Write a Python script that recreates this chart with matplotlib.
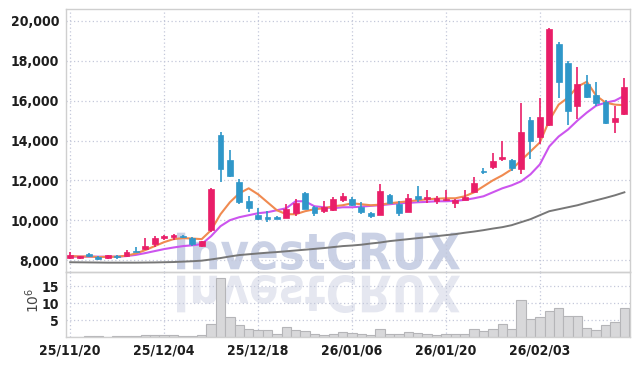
import matplotlib
matplotlib.use("Agg")
import matplotlib.pyplot as plt
from matplotlib import font_manager
from matplotlib.textpath import TextPath
from matplotlib.patches import PathPatch
from matplotlib.transforms import Affine2D
from matplotlib.font_manager import FontProperties
from matplotlib.ticker import FuncFormatter
import numpy as np

#======================== 데이터 ========================#
dates = ["25/11/20", "25/11/21", "25/11/24", "25/11/25", "25/11/26", "25/11/27", "25/11/28",
         "25/12/01", "25/12/02", "25/12/03", "25/12/04", "25/12/05", "25/12/08", "25/12/09",
         "25/12/10", "25/12/11", "25/12/12", "25/12/15", "25/12/16", "25/12/17", "25/12/18",
         "25/12/19", "25/12/22", "25/12/23", "25/12/24", "25/12/26", "25/12/29", "25/12/30",
         "26/01/02", "26/01/05", "26/01/06", "26/01/07", "26/01/08", "26/01/09", "26/01/12",
         "26/01/13", "26/01/14", "26/01/15", "26/01/16", "26/01/19", "26/01/20", "26/01/21",
         "26/01/22", "26/01/23", "26/01/26", "26/01/27", "26/01/28", "26/01/29", "26/01/30",
         "26/02/02", "26/02/03", "26/02/04", "26/02/05", "26/02/06", "26/02/09", "26/02/10",
         "26/02/11", "26/02/12", "26/02/13", "26/02/19"]

opens = [8100, 8080, 8280, 8150, 8090, 8150, 8180, 8440, 8560, 8820,
         9100, 9180, 9200, 9130, 8720, 9500, 14300, 13000, 11900, 10950,
         10250, 10150, 10150, 10120, 10350, 11350, 10670, 10480, 10520, 11000,
         11080, 10680, 10380, 10270, 11250, 10830, 10430, 11230, 11050, 10950,
         11000, 10880, 11020, 11420, 12470, 12650, 13070, 13000, 12570, 15050,
         14170, 14800, 18820, 17900, 15720, 16830, 16300, 15930, 14920, 15350]
highs = [8400, 8220, 8330, 8180, 8260, 8270, 8480, 8650, 9100, 9200,
         9250, 9300, 9240, 9150, 8980, 11600, 14450, 13500, 12050, 11200,
         10600, 10450, 10200, 10800, 11050, 11400, 10700, 10950, 11150, 11350,
         11150, 10900, 10400, 11800, 11300, 10950, 11300, 11700, 11500, 11200,
         11500, 11050, 11500, 12150, 12600, 13350, 13950, 13050, 15900, 15200,
         16150, 19650, 18950, 18000, 17700, 17300, 16950, 16050, 15750, 17150]
lows = [8050, 8030, 8150, 7990, 8070, 8050, 8150, 8380, 8520, 8650,
        9000, 9020, 9120, 8700, 8650, 9400, 11900, 12150, 10800, 10400,
        10000, 9900, 10050, 10100, 10200, 10550, 10200, 10350, 10450, 10900,
        10700, 10300, 10100, 10250, 10800, 10200, 10400, 10900, 10850, 10800,
        10950, 10600, 11000, 11400, 12300, 12550, 12950, 12450, 12300, 13050,
        13800, 14750, 16150, 14800, 15100, 16150, 15750, 14850, 14400, 15300]
closes = [8250, 8180, 8180, 8030, 8240, 8130, 8420, 8420, 8730, 9120,
          9220, 9260, 9160, 8800, 8950, 11550, 12550, 12200, 10900, 10600,
          10050, 10080, 10080, 10550, 10870, 10580, 10350, 10680, 11050, 11200,
          10750, 10420, 10200, 11450, 10850, 10370, 11100, 11080, 11150, 11130,
          11060, 11030, 11170, 11850, 12400, 12970, 13170, 12600, 14450, 13950,
          15170, 19600, 16950, 15500, 16830, 16200, 15870, 14900, 15150, 16700]
# 거래량 (백만 주)
volumes = [0.1, 0.1, 0.2, 0.3, 0.1, 0.3, 0.3, 0.3, 0.6, 0.6,
           0.6, 0.5, 0.3, 0.3, 0.6, 3.7, 17.5, 6.0, 3.6, 2.4,
           2.0, 2.0, 1.0, 3.0, 2.0, 1.7, 0.8, 0.6, 0.8, 1.4,
           1.3, 0.8, 0.5, 2.3, 1.0, 1.0, 1.6, 1.3, 1.0, 0.6,
           1.0, 1.0, 1.0, 2.3, 1.9, 2.3, 3.9, 2.3, 11.0, 5.3,
           5.9, 7.7, 8.5, 6.2, 6.2, 2.6, 2.0, 3.6, 4.4, 8.5]
# 이동평균선
ma_short = [8200, 8180, 8180, 8150, 8160, 8170, 8220, 8330, 8500, 8700,
            8900, 9050, 9100, 9080, 9050, 9500, 10300, 10900, 11350, 11600,
            11300, 10900, 10500, 10300, 10300, 10450, 10550, 10600, 10700, 10750,
            10850, 10800, 10750, 10780, 10850, 10900, 10950, 11000, 11050, 11080,
            11100, 11100, 11200, 11400, 11700, 12000, 12250, 12550, 13000, 13450,
            13900, 15000, 15800, 16150, 16700, 16950, 16250, 15900, 15800, 15770]
ma_mid = [8170, 8170, 8170, 8170, 8170, 8170, 8200, 8260, 8350, 8450,
          8550, 8630, 8700, 8740, 8800, 9200, 9700, 10000, 10150, 10250,
          10350, 10400, 10500, 10600, 10950, 10950, 10700, 10650, 10600, 10650,
          10650, 10680, 10720, 10750, 10800, 10850, 10870, 10900, 10920, 10950,
          10950, 10970, 11020, 11100, 11200, 11400, 11600, 11750, 11950, 12300,
          12800, 13700, 14200, 14550, 15000, 15400, 15750, 15900, 16000, 16250]
ma_long = [7890, 7885, 7880, 7875, 7870, 7870, 7870, 7870, 7875, 7880,
           7890, 7900, 7920, 7940, 7970, 8030, 8100, 8180, 8250, 8290,
           8330, 8370, 8400, 8440, 8480, 8520, 8560, 8600, 8650, 8700,
           8730, 8770, 8830, 8880, 8950, 9000, 9050, 9100, 9150, 9200,
           9250, 9300, 9370, 9430, 9500, 9580, 9650, 9750, 9900, 10050,
           10250, 10450, 10550, 10650, 10750, 10880, 11000, 11120, 11250, 11400]
#========================================================#

UP = "#e91e68"
DOWN = "#2f97c9"


def pick_font():
    fonts = font_manager.fontManager.ttflist
    names = {f.name for f in fonts}
    if "Liberation Sans Narrow" in names:
        return "Liberation Sans Narrow", "normal"
    for f in fonts:
        if f.name == "DejaVu Sans" and f.stretch in ("condensed", "semi-condensed"):
            return "DejaVu Sans", "condensed"
    return "Roboto", "normal"


tick_font, tick_stretch = pick_font()

W, H = 639, 366
fig = plt.figure(figsize=(W / 100, H / 100), dpi=100)
fig.patch.set_facecolor("white")

ax = fig.add_axes([66 / W, 1 - 272 / H, 564 / W, 263 / H])
axv = fig.add_axes([66 / W, 1 - 337 / H, 564 / W, 65 / H], sharex=ax)
for a in (ax, axv):
    a.set_facecolor("none")
    for s in a.spines.values():
        s.set_color("#cfcfcf")
        s.set_linewidth(1.0)
    a.grid(True, color="#c4c8da", linestyle=(0, (1, 2)), linewidth=0.9)
    a.set_axisbelow(True)
    a.tick_params(length=0, labelsize=10, colors="#1e1e1e")

# 워터마크
wm_prop = FontProperties(family="DejaVu Sans", weight="bold")
wm_path = TextPath((0, 0), "InvestCRUX", size=100, prop=wm_prop)
ext = wm_path.get_extents()


def place(x0, x1, ytop, ybot, flip):
    sx = (x1 - x0) / ext.width
    sy = (ybot - ytop) / ext.height
    t = Affine2D().translate(-ext.x0, -ext.y0)
    if flip:
        t = t.scale(sx, -sy).translate(x0, H - ytop)
    else:
        t = t.scale(sx, sy).translate(x0, H - ybot)
    return t.scale(1 / 100) + fig.dpi_scale_trans


fig.add_artist(PathPatch(wm_path, facecolor="#cad1e5", edgecolor="none",
                         transform=place(177, 460, 232, 270, False), zorder=-1))
fig.add_artist(PathPatch(wm_path, facecolor="#e5e7f0", edgecolor="none",
                         transform=place(177, 460, 275, 313, True), zorder=-1))

x = np.arange(len(dates))
o = np.array(opens)
c = np.array(closes)
colors = [UP if cc >= oo else DOWN for oo, cc in zip(o, c)]

ax.plot(x, ma_long, color="#777777", linewidth=1.4, zorder=2)
ax.plot(x, ma_mid, color="#cc55ee", linewidth=1.5, zorder=2)
ax.plot(x, ma_short, color="#f08a50", linewidth=1.5, zorder=2)

ax.vlines(x, lows, highs, colors=colors, linewidth=1.2, zorder=3)
body_bottom = np.minimum(o, c)
body_h = np.maximum(np.abs(c - o), 50)
ax.bar(x, body_h, bottom=body_bottom, width=0.62, color=colors, edgecolor=colors,
       linewidth=0.5, zorder=4)

axv.bar(x, volumes, width=1.0, color="#d8d8da", edgecolor="#b5b5b8", linewidth=0.8, zorder=2)

ax.set_xlim(-0.45, 59.6)
ax.set_ylim(7400, 20600)
ax.set_yticks([8000, 10000, 12000, 14000, 16000, 18000, 20000])
ax.yaxis.set_major_formatter(FuncFormatter(lambda v, p: f"{int(v):,}"))
axv.set_ylim(0, 19.2)
axv.set_yticks([5, 10, 15])

tick_idx = list(range(0, len(dates), 10))
axv.set_xticks(tick_idx)
axv.set_xticklabels([dates[i] for i in tick_idx])
plt.setp(ax.get_xticklabels(), visible=False)

for a in (ax, axv):
    for lab in a.get_yticklabels() + a.get_xticklabels():
        lab.set_fontfamily(tick_font)
        lab.set_fontstretch(tick_stretch)
        lab.set_fontweight("bold")
ax.tick_params(axis="y", pad=5)
axv.tick_params(axis="y", pad=5)
axv.tick_params(axis="x", pad=5)

fig.text(33 / W, 1 - 300 / H, "$10^6$", rotation=90, ha="center", va="center",
         fontsize=10, color="#444444", family="DejaVu Serif")

fig.savefig("out.png", dpi=100)
